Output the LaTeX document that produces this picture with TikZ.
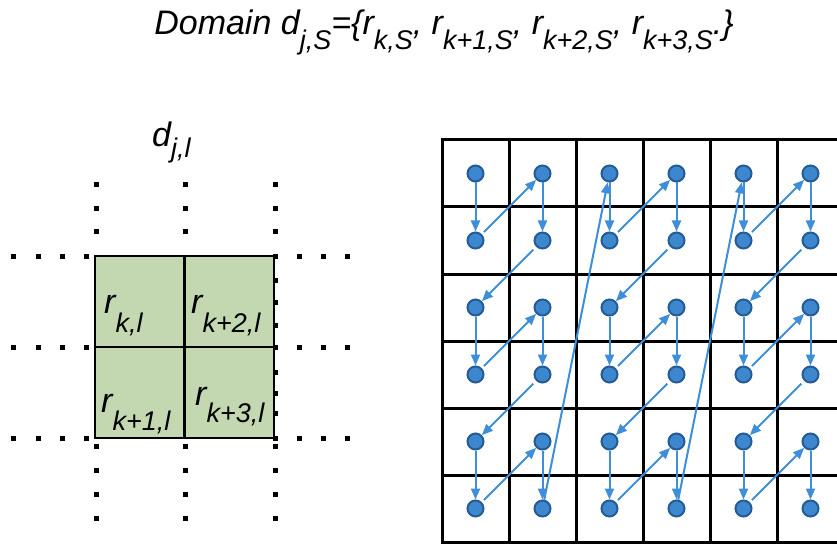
\documentclass[tikz,border=0pt]{standalone}
\usepackage{fontspec}
\setmainfont{Liberation Sans}
\usetikzlibrary{arrows.meta}

\definecolor{cellgreen}{RGB}{195,216,177}
\definecolor{dotfill}{RGB}{60,135,205}
\definecolor{dotedge}{RGB}{38,92,150}
\definecolor{arrowblue}{RGB}{62,142,218}

\newcommand{\bigsize}{\fontsize{34}{40}\selectfont}
\newcommand{\subsize}{\fontsize{27}{30}\selectfont}
\newcommand{\lowsub}[2][15pt]{\raisebox{-#1}{\subsize #2}}

\tikzset{
  gridline/.style = {line width = 3pt, line cap = rect},
  squaredot/.style = {fill = black},
  zdot/.style = {circle, fill = dotfill, draw = dotedge, line width = 2pt, minimum size = 16pt, inner sep = 0pt},
  zarrow/.style = {draw = arrowblue, line width = 2pt, -{Triangle[length = 11pt, width = 9pt, fill = arrowblue]}},
  celltext/.style = {font = \bigsize\itshape, inner sep = 0pt, anchor = base west}
}

\begin{document}
\begin{tikzpicture}[x = 1pt, y = -1pt]
			\useasboundingbox (0, 0) rectangle (837, 545);
			\clip (0, 0) rectangle (837, 545);
			% title
			\node[celltext, anchor = base] (title) at (444, 35) {Domain d\lowsub{j,S}=\{r\lowsub{k,S}, r\lowsub{k+1,S}, r\lowsub{k+2,S}, r\lowsub{k+3,S}.\}};
			% left: one domain of four ranges
			\node[celltext] (dlabel) at (152, 147) {d\lowsub[11pt]{j,l}};
			\fill[cellgreen] (95, 256) rectangle (274, 438);
			\draw[line width = 2.5pt] (95, 256) rectangle (274, 438);
			\draw[line width = 2.5pt] (184.5, 256) -- (184.5, 438);
			\draw[line width = 2.5pt] (95, 347) -- (274, 347);
			\foreach \y in {256, 347, 438} {
				\foreach \x in {13, 38, 62, 86, 275, 299, 323, 347}
					\fill[squaredot] (\x - 2.5, \y - 2.5) rectangle ++(5, 5);
			}
			\foreach \x in {96, 185, 275} {
				\foreach \y in {185, 209, 232, 446, 470, 494, 518}
					\fill[squaredot] (\x - 2.5, \y - 2.5) rectangle ++(5, 5);
			}
			\foreach \y in {280, 302, 325, 372, 393, 413}
				\fill[squaredot] (275 - 2.5, \y - 2.5) rectangle ++(5, 5);
				\node[celltext] (rk) at (104, 313) {r\lowsub[19pt]{k,l}};
				\node[celltext] (rktwo) at (191, 313) {r\lowsub[19pt]{k+2,l}};
				\node[celltext] (rkone) at (101, 412) {r\lowsub[18pt]{k+1,l}};
				\node[celltext] (rkthree) at (195, 405) {r\lowsub[17pt]{k+3,l}};
			% right: grid of cells and the visiting order
			\foreach \i in {0, ..., 5}
				\draw[gridline] ({442 + 67*\i}, 140) -- ({442 + 67*\i}, 542);
			\foreach \j in {0, ..., 6}
				\draw[gridline] (442, {140 + 67*\j}) -- (850, {140 + 67*\j});
			\foreach \i in {0, ..., 5} {
				\foreach \j in {0, ..., 5}
					\node[zdot] (pt-\i-\j) at ({475.5 + 67*\i}, {173.5 + 67*\j}) {};
			}
			\foreach \b in {0, 1, 2} {
				\foreach \r in {0, 1, 2} {
					\pgfmathtruncatemacro{\ca}{2*\b}
					\pgfmathtruncatemacro{\cb}{2*\b + 1}
					\pgfmathtruncatemacro{\ra}{2*\r}
					\pgfmathtruncatemacro{\rb}{2*\r + 1}
					\draw[zarrow] (pt-\ca-\ra) -- (pt-\ca-\rb);
					\draw[zarrow, shorten <= 3pt] (pt-\ca-\rb) -- (pt-\cb-\ra);
					\draw[zarrow] (pt-\cb-\ra) -- (pt-\cb-\rb);
				}
				\foreach \r in {0, 1} {
					\pgfmathtruncatemacro{\ca}{2*\b}
					\pgfmathtruncatemacro{\cb}{2*\b + 1}
					\pgfmathtruncatemacro{\rb}{2*\r + 1}
					\pgfmathtruncatemacro{\rc}{2*\r + 2}
					\draw[zarrow, shorten <= 4pt] (pt-\cb-\rb) -- (pt-\ca-\rc);
				}
			}
			\draw[zarrow] (pt-1-5) -- (pt-2-0);
			\draw[zarrow] (pt-3-5) -- (pt-4-0);
		\end{tikzpicture}
\end{document}
